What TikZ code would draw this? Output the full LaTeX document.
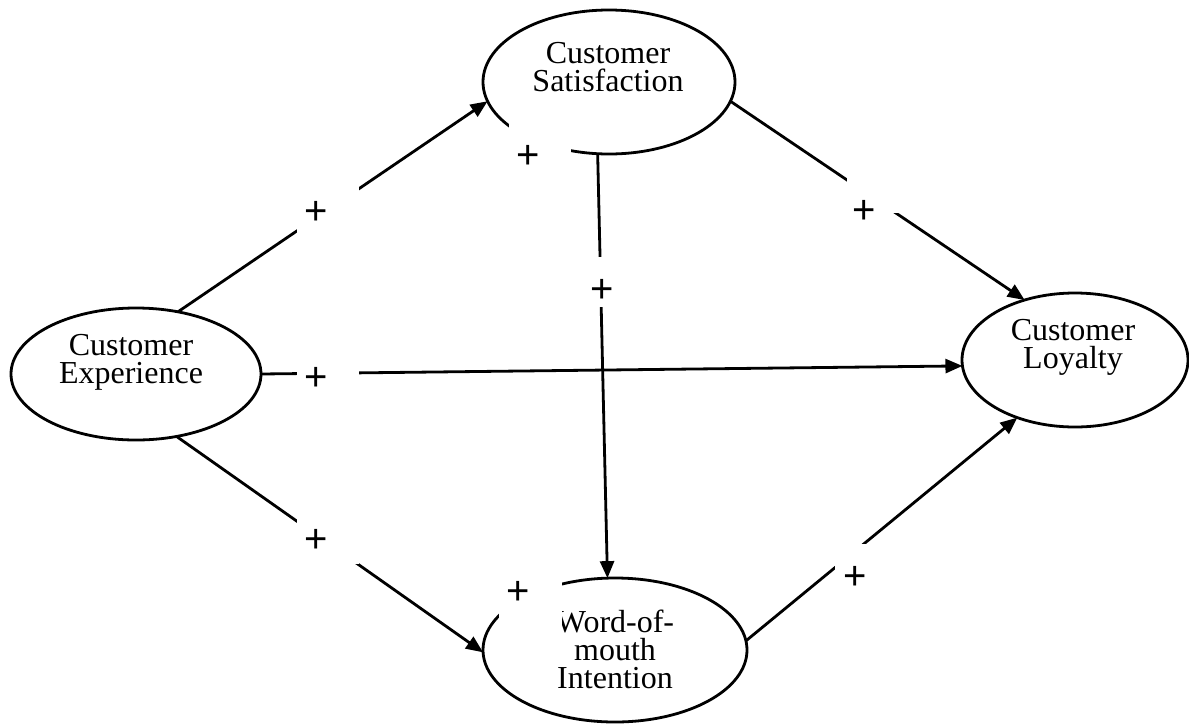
\documentclass[tikz,border=0pt]{standalone}
\usepackage{fontspec}
\setmainfont{Liberation Serif}
\newfontfamily\plusfont{Liberation Sans}
\usetikzlibrary{shapes.geometric,arrows.meta}
\begin{document}
\begin{tikzpicture}[x=0.5pt,y=-0.5pt,
  oval/.style={draw, ellipse, line width=1.4pt, inner sep=0pt, outer sep=0pt},
  caption/.style={align=center, font=\fontsize{16}{14}\selectfont, inner sep=0pt},
  link/.style={line width=1.4pt, -{Triangle[length=8.5pt,width=7pt]}},
  mask/.style={fill=white, draw=none, inner sep=0pt, outer sep=0pt, anchor=north west},
  sign/.style={font=\plusfont\fontsize{20}{20}\selectfont, inner sep=0pt},
]
\useasboundingbox (0,0) rectangle (1189,724);

% constructs
\node[oval, minimum width=126pt, minimum height=72pt] (sat) at (609,82) {};
\node[oval, minimum width=125pt, minimum height=66pt] (exp) at (136,374) {};
\node[oval, minimum width=113pt, minimum height=67pt] (loy) at (1075,360) {};
\node[oval, minimum width=132pt, minimum height=72pt] (wom) at (615,650) {};

\node[caption] (satText) at (608,67) {Customer\\Satisfaction};
\node[caption] (expText) at (131,362) {Customer\\Experience};
\node[caption] (loyText) at (1073,347) {Customer\\Loyalty};
\node[caption] (womText) at (615,649) {Word-of-\\mouth\\Intention};

% hypothesised paths
\draw[link] (exp.56) -- (sat.189.5);
\draw[link] (sat.351.7) -- (loy.130.5);
\draw[link] (sat.261) -- (wom.96.3);
\draw[link] (exp.0) -- (loy.183);
\draw[link] (exp.303.5) -- (wom.181);
\draw[link] (wom.4) -- (loy.225);

% white label boxes
\node[mask, minimum width=31pt, minimum height=30pt] (m1) at (297,180) {};
\node[mask, minimum width=31pt, minimum height=21.5pt] (m2) at (847,170) {};
\node[mask, minimum width=31pt, minimum height=25pt] (m3) at (583,257) {};
\node[mask, minimum width=31pt, minimum height=22.5pt] (m4) at (297,355) {};
\node[mask, minimum width=31pt, minimum height=24.5pt] (m5) at (297,515) {};
\node[mask, minimum width=31pt, minimum height=30pt] (m6) at (835,544) {};
\node[mask, minimum width=31pt, minimum height=32pt] (m7) at (509,120) {};
\node[mask, minimum width=31.5pt, minimum height=34pt] (m8) at (499,572) {};

% signs
\node[sign] (p1) at (316,213) {+};
\node[sign] (p2) at (864,212) {+};
\node[sign] (p3) at (602,291) {+};
\node[sign] (p4) at (316,379) {+};
\node[sign] (p5) at (316,541) {+};
\node[sign] (p6) at (855,578) {+};
\node[sign] (p7) at (528,157) {+};
\node[sign] (p8) at (518,593) {+};
\end{tikzpicture}
\end{document}
